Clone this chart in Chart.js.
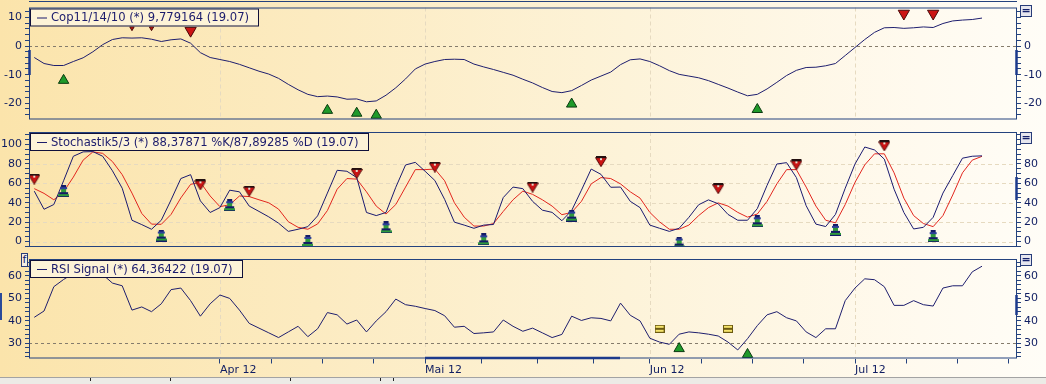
<!DOCTYPE html>
<html>
<head>
<meta charset="utf-8">
<title>Cop / Stochastik / RSI</title>
<script src="https://cdn.jsdelivr.net/npm/chart.js@4.4.1/dist/chart.umd.min.js"></script>
<style>
  html, body { margin: 0; padding: 0; background: #fffdf6; }
  #wrap {
    position: relative; width: 1046px; height: 384px; overflow: hidden;
    background: linear-gradient(to right, #fbe4ab 0%, #fcebc1 30%, #fdf3d9 60%, #fffaef 88%, #fffdf7 100%);
  }
  .pane { position: absolute; left: 0; }
  .btn {
    position: absolute; left: 1020px; width: 10px; height: 10px;
    border: 1px solid #283c78; background: #e6e6ee; color: #14206a;
    font: bold 11px/10px "DejaVu Sans", sans-serif; text-align: center;
  }
  #fbox {
    position: absolute; left: 21px; top: 253px; width: 5px; height: 12px;
    border: 1px solid #283c78; background: #f3efe4; color: #14206a;
    font: 11px/12px "DejaVu Sans", sans-serif; text-align: center;
  }
  #strip {
    position: absolute; left: 0; top: 377px; width: 1046px; height: 7px;
    background: #ecebe6; border-top: 1px solid #a3a3a3;
  }
  .nick { position: absolute; top: 378px; width: 1px; height: 3px; background: #222; }
  #edge { position: absolute; left: 0; top: 293px; width: 2px; height: 27px; background: #2a4a9a; }
</style>
</head>
<body>
<div id="wrap">
  <canvas id="copChart" class="pane" width="1046" height="127" style="top:0"></canvas>
  <canvas id="stochChart" class="pane" width="1046" height="125" style="top:127px"></canvas>
  <canvas id="rsiChart" class="pane" width="1046" height="126" style="top:252px"></canvas>
  <div class="btn" style="top:5px">=</div>
  <div class="btn" style="top:132px">=</div>
  <div class="btn" style="top:254px">=</div>
  <div id="fbox">f</div>
  <div id="edge"></div>
  <div id="strip"></div>
  <div class="nick" style="left:90px"></div>
  <div class="nick" style="left:170px"></div>
  <div class="nick" style="left:290px"></div>
  <div class="nick" style="left:380px"></div>
  <div class="nick" style="left:393px"></div>
</div>
<script>
// trading days 06.03.2012 .. 19.07.2012, x = index of the trading day
const monthTicks = [19, 40, 63, 84];
const monthLabels = ['Apr 12', 'Mai 12', 'Jun 12', 'Jul 12'];
const weekTicks = [24.25, 29.5, 34.75, 45.75, 51.5, 57.25, 68.25, 73.5, 78.75, 89.25, 94.5, 99.75];

const copValues = [
    -4.0, -6.1, -6.8, -6.8, -5.4, -4.1, -2.0, 0.5, 2.3, 2.9,
    2.8, 2.9, 2.4, 1.6, 2.2, 2.5, 1.0, -2.3, -4.0, -4.7,
    -5.4, -6.4, -7.6, -8.8, -9.8, -11.3, -13.4, -15.3, -16.9, -17.7,
    -17.5, -17.8, -18.6, -18.5, -19.5, -19.2, -17.2, -14.6, -11.5, -8.0,
    -6.3, -5.4, -4.7, -4.6, -4.7, -6.3, -7.3, -8.2, -9.2, -10.2,
    -11.6, -12.9, -14.5, -15.9, -16.3, -15.6, -13.8, -11.9, -10.5, -9.1,
    -6.5, -4.8, -4.5, -5.4, -6.9, -8.6, -9.9, -10.5, -11.1, -12.1,
    -13.4, -14.7, -16.1, -17.4, -16.9, -15.0, -12.7, -10.3, -8.5, -7.5,
    -7.4, -6.9, -6.1, -3.3, -0.5, 2.3, 4.8, 6.4, 6.5, 6.2,
    6.4, 6.7, 6.5, 7.9, 8.8, 9.1, 9.3, 9.8
];
const stochK = [
    52, 33.3, 38.2, 62.7, 88, 92.5, 92.8, 88, 73, 55,
    22, 17.5, 12.7, 22, 43, 65, 69, 42, 30, 35,
    53, 51.3, 36.6, 31.1, 25.5, 19, 10.5, 12.7, 15.4, 26.5,
    50, 73.5, 72.5, 66, 30, 26.8, 30, 56, 79, 81.7,
    72.5, 63, 43.5, 20, 17, 13.7, 17, 17.6, 45.4, 56.2,
    54.6, 41.5, 32.4, 30.1, 21.5, 32, 53, 74.8, 69.3, 56,
    56.2, 41.5, 35, 17, 13.7, 10.5, 13.7, 25, 38, 43,
    39, 28, 22, 22, 34, 58, 80, 81.4, 66, 37,
    18, 15.5, 28, 55, 80, 97.5, 94.5, 85, 54, 30,
    13, 14.7, 25, 50, 68, 86, 88, 88.4
];
const stochD = [
    54.6, 49.7, 43.1, 51.3, 66.5, 84, 92.5, 91, 82.5, 69,
    50, 29, 18, 17.8, 28, 45, 59, 61.1, 47, 36,
    38, 47, 46.4, 43.1, 40, 33.5, 20.5, 14.7, 12.7, 18.2,
    32, 54, 65, 64.4, 51.3, 36.6, 28.4, 38.2, 56.2, 74.2,
    74.2, 74.8, 62.7, 40, 25.2, 16, 16, 18.6, 31.1, 43.1,
    52, 48.7, 43.1, 36.6, 27.7, 30.1, 41.5, 59.5, 66, 65,
    59.5, 51.3, 44.8, 30.1, 20.3, 12.7, 12.7, 17, 26.8, 35,
    39.9, 36.6, 30.1, 25.2, 28.4, 41.5, 59.5, 74.2, 74.2, 56.2,
    36.6, 22, 19.3, 38.2, 61.1, 79.1, 90.5, 90.5, 70.9, 44.8,
    26.8, 18.6, 15.4, 26.8, 48, 70.9, 84, 87.9
];
const rsiValues = [
    41.5, 44.3, 55.1, 58.3, 61, 63.5, 63, 60.5, 56.7, 55.5,
    44.7, 46.1, 44.0, 47.5, 53.8, 54.5, 48.9, 42.0, 47.5, 51.4,
    49.9, 44.7, 38.8, 36.7, 34.6, 32.5, 35, 37.5, 32.9, 36.4,
    43.6, 42.6, 38.5, 40.3, 35, 39.9, 44, 49.6, 47.1, 46.4,
    45.4, 44.5, 42.2, 37.1, 37.5, 34.3, 34.6, 35, 40.3, 37.5,
    35.3, 36.7, 34.6, 32.5, 33.9, 42, 40.1, 41.3, 41, 39.9,
    47.8, 42.4, 39.9, 32.2, 30.5, 29.5, 34, 35, 34.6, 34.0,
    33.2, 30.5, 27, 32, 37.8, 42.6, 44, 41.3, 39.9, 35,
    32.5, 36.4, 36.4, 48.9, 54.5, 58.6, 58.2, 55.1, 46.8, 46.8,
    48.9, 47.1, 46.5, 54.5, 55.5, 55.5, 61.7, 64.2
];

// signal markers
const copBuyX = [3, 30, 33, 35, 55, 74];
const copBuyY = [-12.0, -22.5, -23.5, -24.2, -20.3, -22.2];
const copSellX = [16, 89, 92];
const copSellY = [5.4, 11.4, 11.4];
const copHintX = [10, 12];
const copHintY = [6.3, 6.3];
const stochSellX = [0, 17, 22, 33, 41, 51, 58, 70, 78, 87];
const stochSellY = [64.4, 58.5, 52, 70.3, 76.8, 56.2, 82.4, 54.6, 79.1, 98.7];
const stochBuyX = [3, 13, 20, 28, 36, 46, 55, 66, 74, 82, 92];
const stochBuyY = [52, 6.2, 37.5, 0.7, 14.7, 2.3, 26.8, -1, 20.9, 12.1, 5.6];
const rsiFlagX = [64, 71];
const rsiFlagY = [36.4, 36.4];
const rsiBuyX = [66, 73];
const rsiBuyY = [27.6, 25.0];

const copTicks = [-20, -10, 0, 10];
const stochTicks = [0, 20, 40, 60, 80, 100];
const rsiTicks = [30, 40, 50, 60];

const XMIN = -0.54, XMAX = 100.58;
const FONT = '"DejaVu Sans", Verdana, sans-serif';
const NAVY = '#1b1b6c';
const AXIS = '#24427e';
const TICKTXT = '#0f1d62';

Chart.defaults.font.family = FONT;

function series(values) {
    return values.map((v, i) => ({ x: i, y: v }));
}
function points(xs, ys) {
    return xs.map((x, i) => ({ x: x, y: ys[i] }));
}

function makeTower() {
    const c = document.createElement('canvas');
    c.width = 11; c.height = 12;
    const g = c.getContext('2d');
    g.fillStyle = '#141c66'; g.fillRect(3, 0, 5, 2);
    g.fillStyle = '#2d3f9a'; g.fillRect(2, 2, 7, 2);
    g.fillStyle = '#2f9a3c'; g.fillRect(3, 4, 5, 3);
    g.fillStyle = '#141c66'; g.fillRect(1, 7, 9, 2);
    g.fillStyle = '#2f9a3c'; g.fillRect(0, 9, 11, 2);
    g.fillStyle = '#141c66'; g.fillRect(0, 11, 11, 1);
    return c;
}
function makeSellMark() {
    const c = document.createElement('canvas');
    c.width = 12; c.height = 11;
    const g = c.getContext('2d');
    g.beginPath();
    g.moveTo(0.5, 1.5); g.lineTo(11.5, 1.5); g.lineTo(6, 10.5); g.closePath();
    g.fillStyle = '#cc1414'; g.fill();
    g.strokeStyle = '#5a0a0a'; g.lineWidth = 1; g.stroke();
    g.fillStyle = '#241010'; g.fillRect(1, 0, 10, 2);
    g.fillStyle = '#e8e0d0'; g.fillRect(5, 2, 2, 2);
    return c;
}
function makeFlag() {
    const c = document.createElement('canvas');
    c.width = 10; c.height = 8;
    const g = c.getContext('2d');
    g.fillStyle = '#f6e46c';
    g.strokeStyle = '#6b5a12';
    g.lineWidth = 1;
    g.fillRect(0.5, 0.5, 9, 3); g.strokeRect(0.5, 0.5, 9, 3);
    g.fillRect(0.5, 4.5, 9, 3); g.strokeRect(0.5, 4.5, 9, 3);
    return c;
}

// frame, reference lines, legend box, scroll marks
function makeDeco(cfg) {
    return {
        id: 'deco',
        beforeDatasetsDraw(chart) {
            const ctx = chart.ctx, a = chart.chartArea;
            const xs = chart.scales.x, ys = chart.scales.y;
            ctx.save();
            ctx.lineWidth = 1;
            ctx.setLineDash([4, 3]);
            ctx.strokeStyle = '#e6dac0';
            monthTicks.forEach(v => {
                const x = Math.round(xs.getPixelForValue(v)) + 0.5;
                ctx.beginPath(); ctx.moveTo(x, a.top); ctx.lineTo(x, a.bottom); ctx.stroke();
            });
            (cfg.grid || []).forEach(v => {
                const y = Math.round(ys.getPixelForValue(v)) + 0.5;
                ctx.beginPath(); ctx.moveTo(a.left, y); ctx.lineTo(a.right, y); ctx.stroke();
            });
            ctx.strokeStyle = '#857c6c';
            ctx.setLineDash([3, 3]);
            (cfg.ref || []).forEach(v => {
                const y = Math.round(ys.getPixelForValue(v)) + 0.5;
                ctx.beginPath(); ctx.moveTo(a.left, y); ctx.lineTo(a.right, y); ctx.stroke();
            });
            ctx.restore();
        },
        afterDatasetsDraw(chart) {
            const ctx = chart.ctx, a = chart.chartArea;
            ctx.save();
            // legend box
            const text = chart.data.datasets[0].label;
            ctx.font = '11.6px ' + FONT;
            const tw = ctx.measureText(text).width;
            const bx = a.left + 1, by = a.top + 1, bw = Math.round(tw + 31), bh = 18;
            ctx.fillStyle = '#fdf3d8';
            ctx.fillRect(bx, by, bw, bh);
            ctx.strokeStyle = '#10103a';
            ctx.lineWidth = 1;
            ctx.strokeRect(bx + 0.5, by + 0.5, bw - 1, bh - 1);
            ctx.strokeStyle = NAVY;
            ctx.beginPath(); ctx.moveTo(bx + 7, by + 9.5); ctx.lineTo(bx + 17, by + 9.5); ctx.stroke();
            ctx.fillStyle = NAVY;
            ctx.textBaseline = 'middle';
            ctx.textAlign = 'left';
            ctx.fillText(text, bx + 21, by + 9.5);
            // frame
            ctx.strokeStyle = AXIS;
            ctx.strokeRect(a.left + 0.5, a.top + 0.5, a.width - 1, a.height - 1);
            if (cfg.outerTop) {
                ctx.beginPath(); ctx.moveTo(a.left, 1.5); ctx.lineTo(a.right, 1.5); ctx.stroke();
            }
            ctx.strokeStyle = '#1c3a8c';
            ctx.lineWidth = 2.5;
            (cfg.thick || []).forEach(s => {
                ctx.beginPath(); ctx.moveTo(s[0], s[1]); ctx.lineTo(s[2], s[3]); ctx.stroke();
            });
            ctx.restore();
        }
    };
}

function yAxis(pos, min, max, step, labels, hidden) {
    return {
        position: pos,
        min: min,
        max: max,
        afterBuildTicks: s => {
            const t = [];
            for (let v = Math.ceil(min / step) * step; v <= max; v += step) t.push({ value: v });
            s.ticks = t;
        },
        afterFit: s => {
            s.width = 29;
            s.paddingTop = 0;
            s.paddingBottom = 0;
        },
        grid: { drawOnChartArea: false, tickLength: 4, tickColor: AXIS },
        border: { display: false },
        ticks: {
            autoSkip: false,
            padding: 3,
            color: TICKTXT,
            font: { size: 11 },
            callback: v => (labels.includes(v) && !hidden.includes(v)) ? String(v) : ''
        }
    };
}

function xAxis(show) {
    return {
        type: 'linear',
        min: XMIN,
        max: XMAX,
        display: show,
        afterBuildTicks: s => {
            s.ticks = monthTicks.concat(weekTicks).sort((p, q) => p - q).map(v => ({ value: v }));
        },
        afterFit: s => {
            if (show) s.height = 19.5;
            s.paddingLeft = 0;
            s.paddingRight = 0;
        },
        grid: { drawOnChartArea: false, tickLength: 5, tickColor: AXIS },
        border: { display: false },
        ticks: {
            autoSkip: false,
            maxRotation: 0,
            minRotation: 0,
            align: 'start',
            padding: 0,
            color: TICKTXT,
            font: { size: 11 },
            callback: v => {
                const k = monthTicks.indexOf(v);
                return k >= 0 ? monthLabels[k] : '';
            }
        }
    };
}

function baseOptions(padding, show, yl, yr) {
    return {
        responsive: false,
        animation: false,
        events: [],
        layout: { padding: padding },
        plugins: { legend: { display: false }, tooltip: { enabled: false } },
        scales: { x: xAxis(show), y: yl, y2: yr }
    };
}

const lineStyle = { pointRadius: 0, borderWidth: 1, tension: 0, fill: false, order: 1 };

new Chart(document.getElementById('copChart'), {
    type: 'line',
    data: {
        datasets: [
            Object.assign({ label: 'Cop11/14/10 (*) 9,779164 (19.07)', data: series(copValues), borderColor: '#1e1e6e' }, lineStyle),
            { label: 'buy', data: points(copBuyX, copBuyY), showLine: false, pointStyle: 'triangle', pointRadius: 6,
              pointBackgroundColor: '#1f9a2a', pointBorderColor: '#0b3a10', pointBorderWidth: 1, order: 0 },
            { label: 'sell', data: points(copSellX, copSellY), showLine: false, pointStyle: 'triangle', pointRotation: 180,
              pointRadius: 6.5, pointBackgroundColor: '#cc1414', pointBorderColor: '#4a0808', pointBorderWidth: 1, order: 0 },
            { label: 'hint', data: points(copHintX, copHintY), showLine: false, pointStyle: 'triangle', pointRotation: 180,
              pointRadius: 2.6, pointBackgroundColor: '#b81a10', pointBorderColor: '#4a0808', pointBorderWidth: 1, order: 0 }
        ]
    },
    options: baseOptions({ top: 4, bottom: 3, left: 0, right: 0 }, false,
        yAxis('left', -25.7, 13.5, 2, copTicks, []),
        yAxis('right', -25.7, 13.5, 2, copTicks, [10])),
    plugins: [makeDeco({ ref: [0], outerTop: true, thick: [[29.5, 50, 29.5, 75], [1016.5, 50, 1016.5, 75]] })]
});

const towerImg = makeTower();
const sellImg = makeSellMark();
const flagImg = makeFlag();

new Chart(document.getElementById('stochChart'), {
    type: 'line',
    data: {
        datasets: [
            Object.assign({ label: 'Stochastik5/3 (*) 88,37871 %K/87,89285 %D (19.07)', data: series(stochK), borderColor: '#1a1a70' }, lineStyle),
            Object.assign({ label: '%D', data: series(stochD), borderColor: '#e2261e' }, lineStyle),
            { label: 'sell', data: points(stochSellX, stochSellY), showLine: false, pointStyle: sellImg, order: 0 },
            { label: 'buy', data: points(stochBuyX, stochBuyY), showLine: false, pointStyle: towerImg, order: 0 }
        ]
    },
    options: baseOptions({ top: 2, bottom: 2, left: 0, right: 0 }, false,
        yAxis('left', -5.6, 113, 5, stochTicks, []),
        yAxis('right', -5.6, 113, 5, stochTicks, [100])),
    plugins: [makeDeco({ grid: [0, 20, 40, 60, 80], thick: [[1016.5, 50, 1016.5, 73]] })]
});

new Chart(document.getElementById('rsiChart'), {
    type: 'line',
    data: {
        datasets: [
            Object.assign({ label: 'RSI Signal (*) 64,36422 (19.07)', data: series(rsiValues), borderColor: '#1e1e6e' }, lineStyle),
            { label: 'flag', data: points(rsiFlagX, rsiFlagY), showLine: false, pointStyle: flagImg, order: 0 },
            { label: 'buy', data: points(rsiBuyX, rsiBuyY), showLine: false, pointStyle: 'triangle', pointRadius: 6,
              pointBackgroundColor: '#1f9a2a', pointBorderColor: '#0b3a10', pointBorderWidth: 1, order: 0 }
        ]
    },
    options: baseOptions({ top: 1, bottom: 0, left: 0, right: 0 }, true,
        yAxis('left', 23.2, 67.4, 2, rsiTicks, []),
        yAxis('right', 23.2, 67.4, 2, rsiTicks, [])),
    plugins: [makeDeco({ ref: [30], thick: [[1016.5, 43, 1016.5, 63], [425, 106, 620, 106]] })]
});
</script>
</body>
</html>
